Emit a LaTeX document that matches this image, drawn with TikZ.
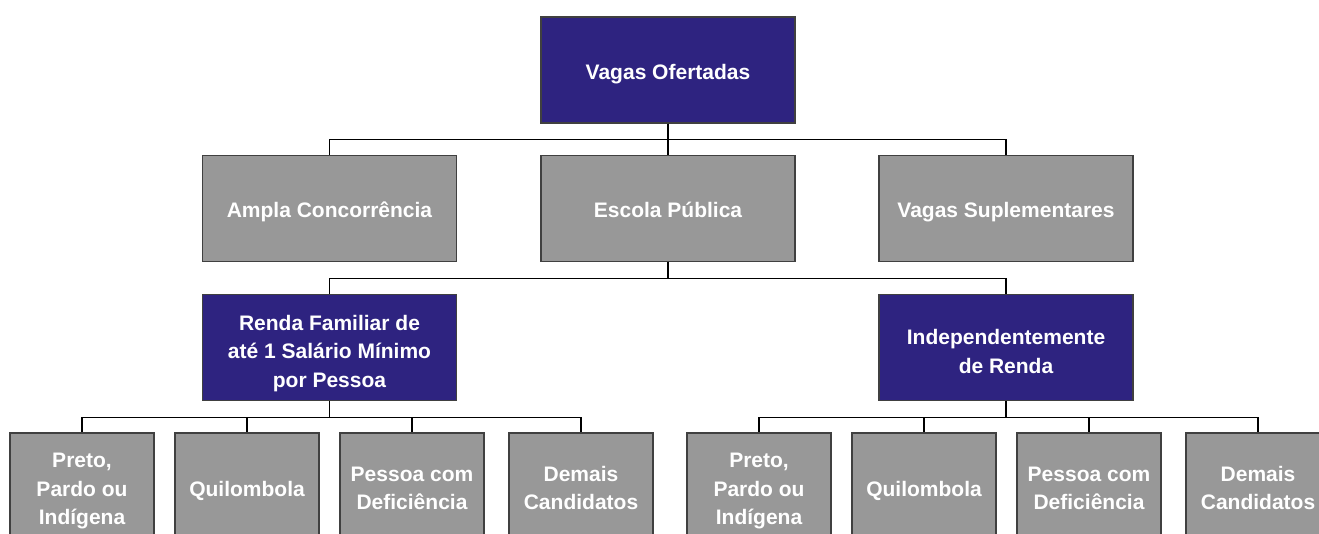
\documentclass[tikz,border=0pt]{standalone}
\usepackage{fontspec}
\setmainfont{Liberation Sans}
\usepackage{tikz}

\definecolor{navy}{RGB}{46,35,128}
\definecolor{boxgray}{RGB}{152,152,152}
\definecolor{edgegray}{RGB}{64,64,64}

\newcommand{\tstrut}[1]{\rule{0pt}{#1pt}}
\newcommand{\botstrut}{\rule[-4.5pt]{0pt}{4.5pt}}

\begin{document}
\begin{tikzpicture}[x=1pt,y=-1pt,
  box/.style={draw=edgegray,line width=1.4pt,minimum width=254pt,minimum height=106pt,
    align=center,text=white,font=\fontsize{21}{28.5}\selectfont\bfseries,inner sep=0pt},
  bluebox/.style={box,fill=navy},
  graybox/.style={box,fill=boxgray},
  smallbox/.style={graybox,minimum width=144pt,minimum height=108pt},
  link/.style={draw=black,line width=1.3pt}]
\useasboundingbox (0,0) rectangle (1319,534);
\clip (0,0) rectangle (1319,534);

% Top level
\node[bluebox] (vagas) at (668,70) {\tstrut{23}Vagas Ofertadas\botstrut};

% Second level
\node[graybox] (ampla) at (329.5,208.5) {\tstrut{23}Ampla Concorrência\botstrut};
\node[graybox] (escola) at (668,208.5) {\tstrut{23}Escola Pública\botstrut};
\node[graybox] (suple) at (1006,208.5) {\tstrut{23}Vagas Suplementares\botstrut};

% Third level
\node[bluebox] (renda) at (329.5,347.5) {\tstrut{27}Renda Familiar de\\até 1 Salário Mínimo\\por Pessoa\botstrut};
\node[bluebox] (indep) at (1006,347.5) {\tstrut{27}Independentemente\\de Renda\botstrut};

% Fourth level, left group
\node[smallbox] (pretoA) at (82,487) {\tstrut{23}Preto,\\Pardo ou\\Indígena\botstrut};
\node[smallbox] (quiloA) at (247,487) {\tstrut{23}Quilombola\botstrut};
\node[smallbox] (defA) at (412,487) {\tstrut{21}Pessoa com\\Deficiência\botstrut};
\node[smallbox] (demaisA) at (581,487) {\tstrut{21}Demais\\Candidatos\botstrut};

% Fourth level, right group
\node[smallbox] (pretoB) at (759,487) {\tstrut{23}Preto,\\Pardo ou\\Indígena\botstrut};
\node[smallbox] (quiloB) at (924,487) {\tstrut{23}Quilombola\botstrut};
\node[smallbox] (defB) at (1089,487) {\tstrut{21}Pessoa com\\Deficiência\botstrut};
\node[smallbox] (demaisB) at (1258,487) {\tstrut{21}Demais\\Candidatos\botstrut};

% Connectors
\draw[link] (vagas.south) -- (escola.north);
\draw[link] (vagas.south) -- ++(0,16) -| (ampla.north);
\draw[link] (vagas.south) -- ++(0,16) -| (suple.north);

\draw[link] (escola.south) -- ++(0,16) -| (renda.north);
\draw[link] (escola.south) -- ++(0,16) -| (indep.north);

\foreach \n in {pretoA,quiloA,defA,demaisA}{
\draw[link] (renda.south) -- ++(0,16) -| (\n.north);
}
\foreach \n in {pretoB,quiloB,defB,demaisB}{
\draw[link] (indep.south) -- ++(0,16) -| (\n.north);
}

\end{tikzpicture}
\end{document}
